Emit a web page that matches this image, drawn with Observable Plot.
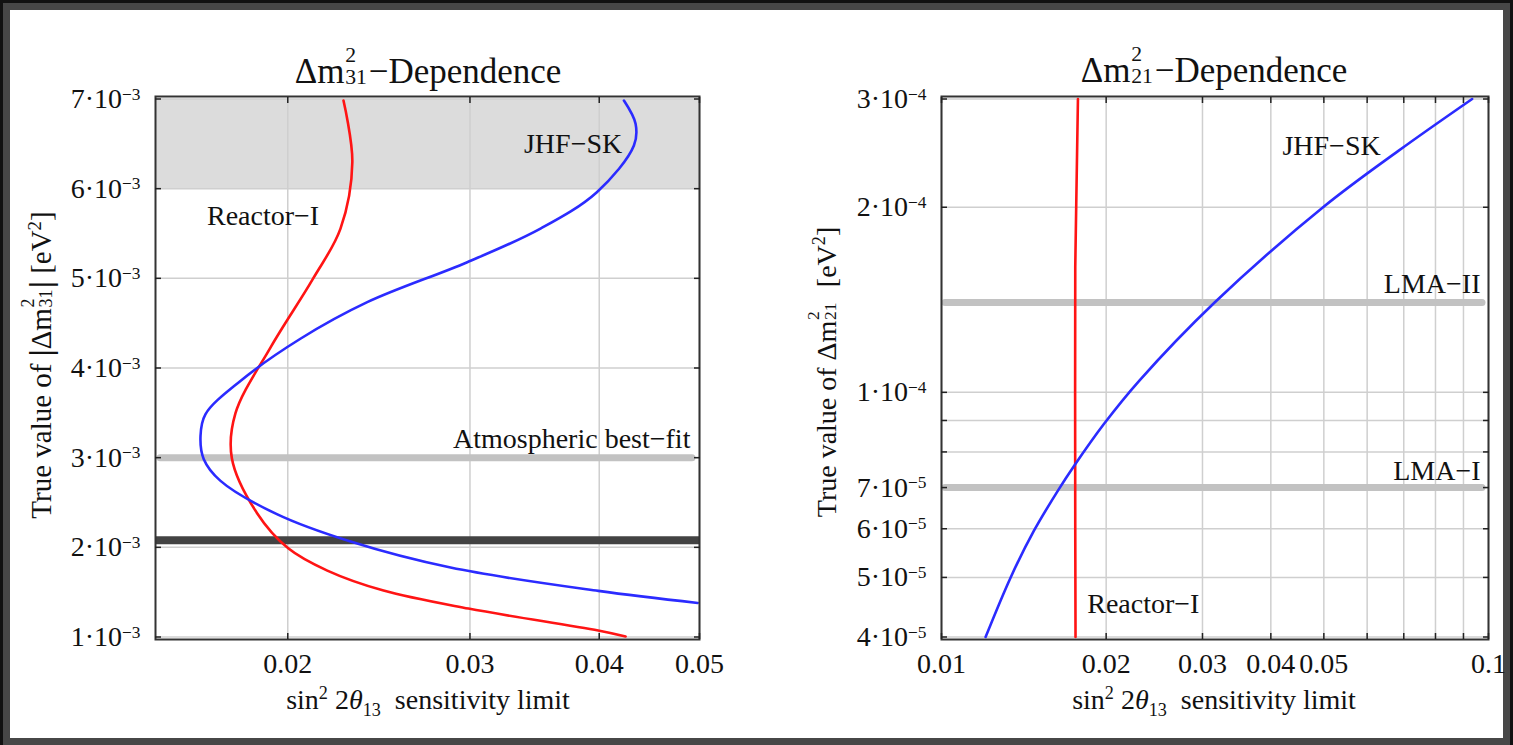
<!DOCTYPE html>
<html><head><meta charset="utf-8">
<script src="https://cdn.jsdelivr.net/npm/d3@7"></script>
<script src="https://cdn.jsdelivr.net/npm/@observablehq/plot@0.6"></script>
<style>
html,body{margin:0;padding:0;background:#111;width:1513px;height:745px;overflow:hidden;font-family:"Liberation Serif","Times New Roman",serif;color:#111;}
#box{position:absolute;left:3px;top:3px;width:1493px;height:728px;background:#fff;border:7px solid #474747;}
.panel{position:absolute;top:0;}
.lbl{position:absolute;white-space:nowrap;font-size:28px;line-height:1;transform:translate(-50%,-50%);}
.rot{transform:translate(-50%,-50%) rotate(-90deg);}
.ss{display:inline-block;vertical-align:-0.06em;font-size:0.62em;line-height:1;text-align:left;margin:0 0.08em 0 0.04em;}
.ss span{display:block;}
sup,sub{font-size:0.65em;line-height:0;}
.bar{font-weight:bold;font-size:1.08em;}
</style></head>
<body>
<div id="box"></div>
<div id="left" class="panel" style="left:0px"></div>
<div id="right" class="panel" style="left:760px"></div>
<div class="lbl" style="left:428px;top:67px;font-size:35px">Δm<span class="ss"><span>2</span><span>31</span></span>−Dependence</div>
<div class="lbl" style="left:1214px;top:66px;font-size:35px">Δm<span class="ss"><span>2</span><span>21</span></span>−Dependence</div>
<div class="lbl" style="left:428px;top:700px">sin<sup>2</sup> 2<i>θ</i><sub>13</sub>&nbsp; sensitivity limit</div>
<div class="lbl" style="left:1214px;top:700px">sin<sup>2</sup> 2<i>θ</i><sub>13</sub>&nbsp; sensitivity limit</div>
<div class="lbl rot" style="left:38px;top:365px;font-size:29px">True value of <span class="bar">|</span>Δm<span class="ss"><span>2</span><span>31</span></span><span class="bar">|</span> [eV<sup>2</sup>]</div>
<div class="lbl rot" style="left:823px;top:372px">True value of Δm<span class="ss"><span>2</span><span>21</span></span>&nbsp; [eV<sup>2</sup>]</div>
<script>
// ---------- Left panel: Δm²31 dependence ----------
const dm31Reactor = [0.006983,0.006295,0.005555,0.004986,0.004231,0.003493,0.002994,0.002381,0.001990,0.001741,0.001518,0.001317,0.001072,0.001005];
const s13Reactor31 = [0.02264,0.02309,0.02249,0.02113,0.01925,0.01780,0.01766,0.01868,0.02002,0.02184,0.02475,0.02990,0.03991,0.04242];
const dm31JHF = [0.006983,0.006723,0.006481,0.005961,0.005552,0.005180,0.004734,0.004326,0.003856,0.003484,0.003242,0.002983,0.002741,0.002370,0.002064,0.001774,0.001514,0.001380];
const s13JHF31 = [0.04226,0.04337,0.04321,0.03979,0.03506,0.02982,0.02387,0.02057,0.01800,0.01665,0.01647,0.01659,0.01722,0.01952,0.02300,0.02873,0.03992,0.04980];
const excludedBand31 = [{lo:0.006, hi:0.007}];
const atmBestFit = [0.003];
const dm31Marker = [0.00208];
const yTicks31 = [0.001,0.002,0.003,0.004,0.005,0.006,0.007];
const xGrid31 = [0.02,0.03,0.04,0.05];
const xTicks31 = [0.02,0.03,0.04,0.05];
const labels31 = [
  {text:"JHF−SK", x:0.0421, y:0.00650, anchor:"end"},
  {text:"Reactor−I", x:0.01671, y:0.00570, anchor:"start"},
  {text:"Atmospheric best−fit", x:0.0490, y:0.00321, anchor:"end"}
];

// ---------- Right panel: Δm²21 dependence ----------
const dm21Reactor = [0.00004,0.00006,0.00010,0.00016,0.00020,0.00030];
const s13Reactor21 = [0.01758,0.01756,0.01755,0.01756,0.01763,0.01776];
const dm21JHF = [0.000040,0.000050,0.0000595,0.0000696,0.0000759,0.0000888,0.0001044,0.000140,0.000200,0.000247,0.000300];
const s13JHF21 = [0.01204,0.01338,0.01475,0.01639,0.01747,0.01981,0.02298,0.03157,0.04984,0.06842,0.09335];
const lmaI = [0.00007];
const lmaII = [0.00014];
const yTicks21 = [0.00004,0.00005,0.00006,0.00007,0.0001,0.0002,0.0003];
const yGrid21 = [0.00004,0.00005,0.00006,0.00007,0.00008,0.00009,0.0001,0.0002,0.0003];
const xGrid21 = [0.01,0.02,0.03,0.04,0.05,0.06,0.07,0.08,0.09,0.1];
const xTicks21 = [0.01,0.02,0.03,0.04,0.05,0.1];
const labels21 = [
  {text:"JHF−SK", x:0.0420, y:0.000252, anchor:"start"},
  {text:"LMA−II", x:0.0967, y:0.000150, anchor:"end"},
  {text:"LMA−I", x:0.0967, y:0.0000745, anchor:"end"},
  {text:"Reactor−I", x:0.01847, y:0.0000452, anchor:"start"}
];

const FONT = '"Liberation Serif","Times New Roman",serif';
const RED = "#ff1414", BLUE = "#2b2bff", GRID = "#cfcfcf";

function zipPts(xs, ys){ return xs.map((x,i)=>({x, y: ys[i]})); }

function supify(svg){
  svg.querySelectorAll("text").forEach(t => {
    const s = t.textContent;
    if (!s.includes("^")) return;
    const [base, exp] = s.split("^");
    t.textContent = "";
    t.appendChild(document.createTextNode(base));
    const ts = document.createElementNS("http://www.w3.org/2000/svg","tspan");
    ts.setAttribute("dy","-0.48em");
    ts.setAttribute("font-size","0.62em");
    ts.textContent = exp;
    t.appendChild(ts);
  });
}

function inwardTicks(xVals, yVals){
  const o = {tickSize:-6, tickFormat:()=>"", label:null, stroke:"#222", strokeWidth:1.5};
  return [
    Plot.axisX(xVals, {anchor:"bottom", ...o}),
    Plot.axisX(xVals, {anchor:"top", ...o}),
    Plot.axisY(yVals, {anchor:"left", ...o}),
    Plot.axisY(yVals, {anchor:"right", ...o})
  ];
}

function labelMarks(labels){
  return ["start","end","middle"].map(a =>
    Plot.text(labels, {filter: d => d.anchor === a, x:"x", y:"y", text:"text", textAnchor:a, fontSize:28, fill:"#111"}));
}

const left = Plot.plot({
  width: 760, height: 745,
  marginLeft: 155, marginRight: 61, marginTop: 96, marginBottom: 106,
  style: {background:"transparent", fontFamily: FONT, fontSize: "28px", color:"#111"},
  x: {type:"log", domain:[0.0149, 0.05]},
  y: {type:"linear", domain:[0.001, 0.007], inset: 2.5},
  marks: [
    Plot.rect(excludedBand31, {y1:"lo", y2:"hi", fill:"#dcdcdc"}),
    Plot.gridX(xGrid31, {stroke:GRID, strokeOpacity:1, strokeWidth:1.5}),
    Plot.gridY(yTicks31, {stroke:GRID, strokeOpacity:1, strokeWidth:1.5}),
    Plot.ruleY(atmBestFit, {stroke:"#c2c2c2", strokeWidth:7, strokeLinecap:"round", insetLeft:5, insetRight:7}),
    Plot.ruleY(dm31Marker, {stroke:"#434343", strokeWidth:8}),
    Plot.line(zipPts(s13Reactor31, dm31Reactor), {x:"x", y:"y", stroke:RED, strokeWidth:2.6, curve:"catmull-rom"}),
    Plot.line(zipPts(s13JHF31, dm31JHF), {x:"x", y:"y", stroke:BLUE, strokeWidth:2.6, curve:"catmull-rom", clip:true}),
    Plot.frame({stroke:"#333", strokeWidth:2}),
    ...inwardTicks(xGrid31, yTicks31),
    Plot.axisY(yTicks31, {anchor:"left", tickSize:0, tickPadding:15, label:null, tickFormat: d => `${Math.round(d*1e3)}·10^−3`}),
    Plot.axisX(xTicks31, {anchor:"bottom", tickSize:0, tickPadding:14, label:null, tickFormat: d => d.toFixed(2)}),
    ...labelMarks(labels31)
  ]
});
supify(left);
document.getElementById("left").appendChild(left);

const right = Plot.plot({
  width: 753, height: 745,
  marginLeft: 181, marginRight: 25, marginTop: 96, marginBottom: 106,
  style: {background:"transparent", fontFamily: FONT, fontSize: "28px", color:"#111"},
  x: {type:"log", domain:[0.01, 0.1]},
  y: {type:"log", domain:[0.00004, 0.0003], inset: 2.5},
  marks: [
    Plot.gridX(xGrid21, {stroke:GRID, strokeOpacity:1, strokeWidth:1.5}),
    Plot.gridY(yGrid21, {stroke:GRID, strokeOpacity:1, strokeWidth:1.5}),
    Plot.ruleY(lmaII, {stroke:"#c2c2c2", strokeWidth:7, strokeLinecap:"round", insetLeft:4, insetRight:6}),
    Plot.ruleY(lmaI, {stroke:"#c2c2c2", strokeWidth:7, strokeLinecap:"round", insetLeft:4, insetRight:6}),
    Plot.line(zipPts(s13Reactor21, dm21Reactor), {x:"x", y:"y", stroke:RED, strokeWidth:2.6}),
    Plot.line(zipPts(s13JHF21, dm21JHF), {x:"x", y:"y", stroke:BLUE, strokeWidth:2.6, curve:"catmull-rom"}),
    Plot.frame({stroke:"#333", strokeWidth:2}),
    ...inwardTicks(xGrid21, yGrid21),
    Plot.axisY(yTicks21, {anchor:"left", tickSize:0, tickPadding:15, label:null,
      tickFormat: d => d >= 1e-4 ? `${Math.round(d*1e4)}·10^−4` : `${Math.round(d*1e5)}·10^−5`}),
    Plot.axisX(xTicks21, {anchor:"bottom", tickSize:0, tickPadding:14, label:null, tickFormat: d => String(+d.toPrecision(2))}),
    ...labelMarks(labels21)
  ]
});
supify(right);
document.getElementById("right").appendChild(right);
</script>
</body></html>
